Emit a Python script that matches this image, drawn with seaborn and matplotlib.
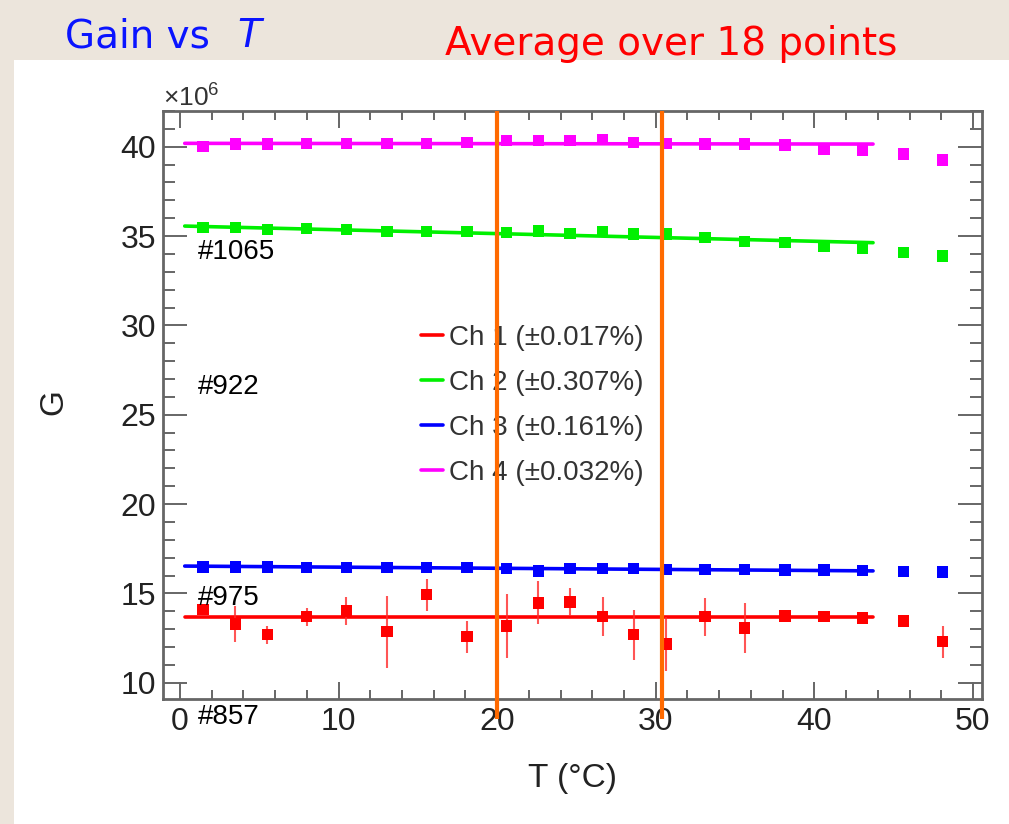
import numpy as np
import pandas as pd
import matplotlib
matplotlib.use("Agg")
import matplotlib.pyplot as plt
from matplotlib.lines import Line2D
from matplotlib.patches import Rectangle
from matplotlib.ticker import MultipleLocator
import seaborn as sns

# Temperature scan (deg C)
temperature = [1.45, 3.5, 5.5, 8.0, 10.5, 13.05, 15.55, 18.1, 20.6, 22.6, 24.6,
               26.65, 28.6, 30.65, 33.1, 35.6, 38.15, 40.6, 43.05, 45.6, 48.1]

# Gain per channel, in units of 10^6
gain_ch1 = [14.08, 13.29, 12.68, 13.69, 14.02, 12.85, 14.92, 12.57, 13.18, 14.47, 14.52,
            13.69, 12.68, 12.17, 13.69, 13.06, 13.73, 13.69, 13.63, 13.46, 12.29]
gain_ch1_err = [0.3, 1.0, 0.5, 0.5, 0.8, 2.0, 0.9, 0.9, 1.8, 1.2, 0.8,
                1.1, 1.4, 1.5, 1.05, 1.4, 0.2, 0.2, 0.2, 0.2, 0.9]
gain_ch2 = [35.49, 35.49, 35.38, 35.43, 35.38, 35.25, 35.25, 35.25, 35.21, 35.29, 35.16,
            35.25, 35.11, 35.11, 34.93, 34.69, 34.66, 34.41, 34.32, 34.07, 33.89]
gain_ch3 = [16.48, 16.48, 16.48, 16.45, 16.45, 16.43, 16.45, 16.43, 16.41, 16.26, 16.40,
            16.40, 16.38, 16.35, 16.35, 16.33, 16.31, 16.31, 16.28, 16.23, 16.20]
gain_ch4 = [40.00, 40.15, 40.15, 40.19, 40.19, 40.19, 40.19, 40.23, 40.34, 40.34, 40.34,
            40.42, 40.23, 40.19, 40.15, 40.15, 40.10, 39.86, 39.78, 39.59, 39.26]

channels = ["Ch 1", "Ch 2", "Ch 3", "Ch 4"]
spread_labels = ["(\u00b10.017%)", "(\u00b10.307%)", "(\u00b10.161%)", "(\u00b10.032%)"]
channel_colors = ["#ff0000", "#00f000", "#0000ff", "#ff00ff"]

# Linear fits over the averaging range
fit_range = [0.3, 43.7]
fit_start = [13.70, 35.56, 16.53, 40.19]
fit_end = [13.70, 34.63, 16.26, 40.15]

# Temperature window markers
window = [20.0, 30.4]

# PMT serial numbers
pmt_labels = ["#1065", "#922", "#975", "#857"]
pmt_label_gain = [34.11, 26.55, 14.74, 8.08]
pmt_label_t = 1.13

x_ticks = [0, 10, 20, 30, 40, 50]
y_ticks = [10, 15, 20, 25, 30, 35, 40]

# ---------------------------------------------------------------------------
gains = [gain_ch1, gain_ch2, gain_ch3, gain_ch4]
points = pd.concat(
    [pd.DataFrame({"T": temperature, "G": g, "channel": ch}) for ch, g in zip(channels, gains)],
    ignore_index=True,
)
fits = pd.concat(
    [pd.DataFrame({"T": fit_range, "G": [a, b], "channel": ch})
     for ch, a, b in zip(channels, fit_start, fit_end)],
    ignore_index=True,
)
palette = dict(zip(channels, channel_colors))

sns.set_theme(style="white")
plt.rcParams["font.family"] = ["Liberation Sans", "DejaVu Sans"]
plt.rcParams["mathtext.fontset"] = "custom"
plt.rcParams["mathtext.rm"] = "Liberation Sans"

W, H = 1009, 824
fig = plt.figure(figsize=(W / 100, H / 100), dpi=100, facecolor="#ece5dc")

# white slide panel
fig.patches.append(Rectangle((14 / W, 0), 1 - 14 / W, (H - 60) / H,
                             transform=fig.transFigure, facecolor="white",
                             edgecolor="none", zorder=-10))

ax = fig.add_axes([163 / W, 1 - 699 / H, (982 - 163) / W, (699 - 111) / H])
ax.set_facecolor("white")

sns.lineplot(data=fits, x="T", y="G", hue="channel", palette=palette,
             linewidth=2.6, legend=False, estimator=None, sort=False, ax=ax, zorder=3)
ax.errorbar(temperature, gain_ch1, yerr=gain_ch1_err, fmt="none",
            ecolor="#ff2a2a", elinewidth=1.5, capsize=0, zorder=3.5, alpha=0.8)
sns.scatterplot(data=points, x="T", y="G", hue="channel", palette=palette,
                marker="s", s=66, edgecolor="none", linewidth=0, legend=False,
                ax=ax, zorder=4)

ax.set_xlim(-1.07, 50.57)
ax.set_ylim(9.09, 42.0)

for t in window:
    ax.plot([t, t], [7.97, 42.0], color="#ff6a00", linewidth=3.0,
            clip_on=False, zorder=6, solid_capstyle="butt")

for lab, g in zip(pmt_labels, pmt_label_gain):
    ax.text(pmt_label_t, g, lab, fontsize=20, color="black", ha="left",
            va="center", clip_on=False, zorder=7)

# axes frame and ticks
for sp in ax.spines.values():
    sp.set_color("#666666")
    sp.set_linewidth(2.0)
ax.set_xticks(x_ticks)
ax.set_yticks(y_ticks)
ax.xaxis.set_minor_locator(MultipleLocator(2))
ax.yaxis.set_minor_locator(MultipleLocator(1))
ax.tick_params(which="both", direction="in", bottom=True, left=True, top=True, right=True,
               color="#666666", width=1.4, labelsize=23, labelcolor="#222222")
ax.tick_params(axis="x", which="major", length=12.5, pad=6)
ax.tick_params(axis="x", which="minor", length=6.5)
ax.tick_params(axis="y", which="major", length=17.5, pad=5)
ax.tick_params(axis="y", which="minor", length=8.5)

ax.set_xlabel("T (\u00b0C)", fontsize=24, color="#222222")
ax.set_ylabel("G", fontsize=24, color="#222222")
ax.xaxis.set_label_coords(0.5, -(763 - 699) / 588)
ax.yaxis.set_label_coords(-0.1148, 0.505)

ax.text(0.0, 1.0068, r"$\mathregular{\times10^{6}}$", transform=ax.transAxes,
        fontsize=19, color="#333333", ha="left", va="baseline")

# legend
handles = [Line2D([0], [0], color=c, linewidth=2.6) for c in channel_colors]
labels = [f"{ch} {s}" for ch, s in zip(channels, spread_labels)]
leg = ax.legend(handles, labels, loc="upper left",
                bbox_to_anchor=(421 / W, 1 - 325 / H), bbox_transform=fig.transFigure,
                frameon=False, fontsize=20, handlelength=0.8, handletextpad=0.22,
                labelspacing=0.68, borderpad=0, borderaxespad=0)
for t in leg.get_texts():
    t.set_color("#333333")

# slide headings
fig.text(65 / W, 1 - 47 / H, "Gain vs", fontsize=28, color="#0a14ff",
         family="DejaVu Sans", ha="left", va="baseline")
fig.text(237 / W, 1 - 47 / H, "T", fontsize=28, color="#0a14ff", style="italic",
         family="DejaVu Sans", ha="left", va="baseline")
fig.text(445 / W, 1 - 55 / H, "Average over 18 points", fontsize=28, color="#ff0000",
         family="DejaVu Sans", ha="left", va="baseline")

fig.savefig("out.png", dpi=100, facecolor=fig.get_facecolor())
